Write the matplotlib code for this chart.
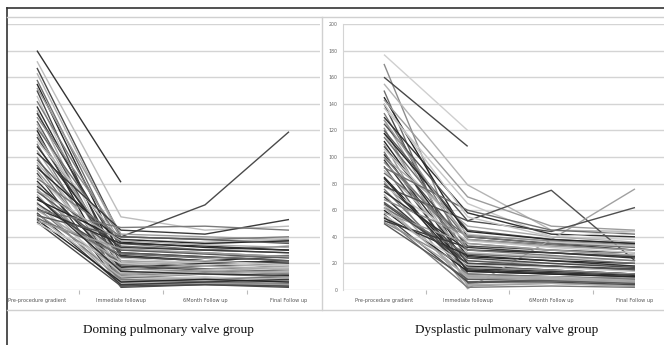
import numpy as np
import matplotlib
matplotlib.use("Agg")
import matplotlib.pyplot as plt
from matplotlib.lines import Line2D

nan = np.nan
categories = ["Pre-procedure gradient", "Immediate followup", "6Month Follow up", "Final Follow up"]
yticks = list(range(0, 201, 20))

# Doming pulmonary valve group
pre_d = [180, 172, 167, 163, 158, 155, 152, 150, 146, 142, 138, 135, 133, 130, 127, 125, 122, 120, 117, 115,
         112, 110, 108, 105, 103, 100, 98, 96, 94, 92, 90, 88, 86, 84, 82, 80, 78, 76, 74, 72,
         70, 68, 66, 65, 64, 62, 61, 60, 58, 57, 56, 55, 54, 53, 52, 51, 50, 60, 70, 75]
imm_d = [81, 55, 40, 38, 30, 25, 42, 12, 8, 35, 20, 5, 28, 40, 15, 10, 33, 3, 22, 18,
         38, 6, 26, 12, 45, 4, 30, 20, 9, 36, 14, 2, 24, 40, 17, 7, 32, 11, 28, 5,
         19, 38, 3, 25, 13, 8, 35, 22, 4, 16, 40, 10, 27, 6, 31, 3, 20, 47, 14, 37]
six_d = [nan, 45, 64, 35, 28, 22, 40, 15, 10, 30, 22, 6, 25, 38, 18, 8, 30, 5, 20, 15,
         36, 8, 22, 15, 42, 5, 27, 18, 12, 32, 12, 4, 20, 38, 20, 9, 30, 13, 25, 7,
         16, 35, 5, 22, 15, 6, 33, 18, 6, 14, 38, 12, 24, 8, 28, 4, 22, 48, 12, 34]
fin_d = [nan, 48, 119, 37, 25, 20, 38, 18, 7, 33, 25, 4, 22, 36, 20, 10, 28, 3, 17, 12,
         39, 10, 20, 13, 53, 7, 24, 16, 10, 30, 15, 3, 18, 40, 22, 6, 28, 10, 22, 9,
         14, 37, 4, 20, 17, 5, 30, 15, 8, 12, 35, 14, 26, 6, 25, 2, 19, 45, 11, 32]

# Dysplastic pulmonary valve group
pre_p = [177, 170, 160, 155, 150, 145, 143, 140, 137, 133, 130, 128, 125, 122, 120, 118, 115, 112, 110, 108,
         106, 104, 102, 100, 98, 96, 93, 90, 88, 85, 82, 80, 78, 76, 74, 72, 70, 68, 66, 64,
         62, 60, 58, 57, 56, 55, 54, 53, 52, 51, 50, 78, 92, 118, 128, 65, 140, 100, 84, 62]
imm_p = [120, 18, 108, 79, 5, 40, 70, 12, 65, 30, 58, 22, 52, 8, 45, 15, 38, 25, 3, 33,
         42, 10, 20, 48, 14, 35, 6, 28, 40, 18, 1, 24, 37, 12, 30, 4, 16, 41, 22, 9,
         27, 14, 35, 6, 19, 2, 26, 11, 32, 17, 8, 52, 60, 44, 38, 20, 55, 30, 15, 10]
six_p = [nan, 15, nan, 45, 8, 35, 48, 10, 40, 28, 42, 20, 75, 10, 38, 12, 34, 22, 5, 30,
         36, 8, 18, 40, 12, 30, 7, 25, 35, 15, 38, 20, 32, 10, 28, 5, 14, 37, 18, 10,
         24, 12, 30, 6, 17, 3, 22, 9, 28, 15, 7, 44, 45, 38, 33, 18, 40, 26, 13, 8]
fin_p = [nan, 12, nan, 44, 6, 30, 45, 8, 38, 25, 40, 18, 22, 9, 35, 10, 30, 20, 3, 28,
         33, 6, 15, 36, 10, 26, 5, 22, 32, 12, 76, 17, 28, 8, 24, 3, 12, 34, 15, 7,
         20, 10, 26, 4, 14, 2, 18, 7, 25, 12, 5, 62, 42, 35, 30, 16, 44, 22, 11, 6]

grays = ['#3a3a3a', '#8c8c8c', '#5a5a5a', '#b4b4b4', '#6e6e6e', '#262626',
         '#9c9c9c', '#4a4a4a', '#c6c6c6', '#7a7a7a', '#303030', '#a8a8a8']
special_d = {0: '#333333', 1: '#bdbdbd', 2: '#4a4a4a'}
special_p = {0: '#cfcfcf', 2: '#474747', 12: '#505050', 30: '#a0a0a0', 51: '#4f4f4f'}

W, H = 664, 345
fig = plt.figure(figsize=(W / 100, H / 100), dpi=100)
fig.patch.set_facecolor('white')

def px_rect(x0, x1, ytop, ybot):
    return [x0 / W, (H - ybot) / H, (x1 - x0) / W, (ybot - ytop) / H]

def draw_panel(ax, series, special, xlim, show_ylabels):
    x = np.arange(len(categories))
    for i, vals in enumerate(zip(*series)):
        col = special.get(i, grays[i % len(grays)])
        ax.plot(x, vals, color=col, lw=1.0, solid_capstyle='butt', zorder=3)
    ax.set_xlim(*xlim)
    ax.set_ylim(0, 200)
    ax.set_yticks(yticks)
    ax.grid(axis='y', color='#d4d4d4', lw=1.0, zorder=0)
    ax.set_axisbelow(True)
    for s in ['top', 'right', 'bottom', 'left']:
        ax.spines[s].set_visible(False)
    ax.set_xticks(x)
    ax.set_xticklabels(categories, fontsize=3.6, color='#555555')
    ax.set_xticks([0.5, 1.5, 2.5], minor=True)
    ax.tick_params(axis='x', which='major', length=0, pad=6)
    ax.tick_params(axis='x', which='minor', length=3, color='#bbbbbb', width=0.8)
    if show_ylabels:
        ax.tick_params(axis='y', length=0, labelsize=3.4, labelcolor='#666666', pad=4)
        ax.spines['left'].set_visible(True)
        ax.spines['left'].set_color('#d4d4d4')
    else:
        ax.tick_params(axis='y', length=0, labelleft=False)

axL = fig.add_axes(px_rect(7, 320, 24, 290))
draw_panel(axL, (pre_d, imm_d, six_d, fin_d), special_d, (-0.357, 3.369), False)

axR = fig.add_axes(px_rect(343, 664, 24, 290))
draw_panel(axR, (pre_p, imm_p, six_p, fin_p), special_p, (-0.49, 3.347), True)

def fline(xs, ys, color, lw):
    fig.add_artist(Line2D([x / W for x in xs], [(H - y) / H for y in ys],
                          color=color, lw=lw, transform=fig.transFigure))

fline([7, 664], [8, 8], '#333333', 1.2)
fline([7, 7], [8, 345], '#333333', 1.2)
fline([7, 664], [17, 17], '#d0d0d0', 1.0)
fline([322, 322], [17, 310], '#d0d0d0', 1.0)
fline([7, 664], [310, 310], '#d0d0d0', 1.0)

fig.text(168 / W, (H - 330) / H, "Doming pulmonary valve group", family='Liberation Serif',
         fontsize=9.5, ha='center', va='center', color='#111111')
fig.text(507 / W, (H - 330) / H, "Dysplastic pulmonary valve group", family='Liberation Serif',
         fontsize=9.5, ha='center', va='center', color='#111111')

fig.savefig('out.png', dpi=100, facecolor='white')
